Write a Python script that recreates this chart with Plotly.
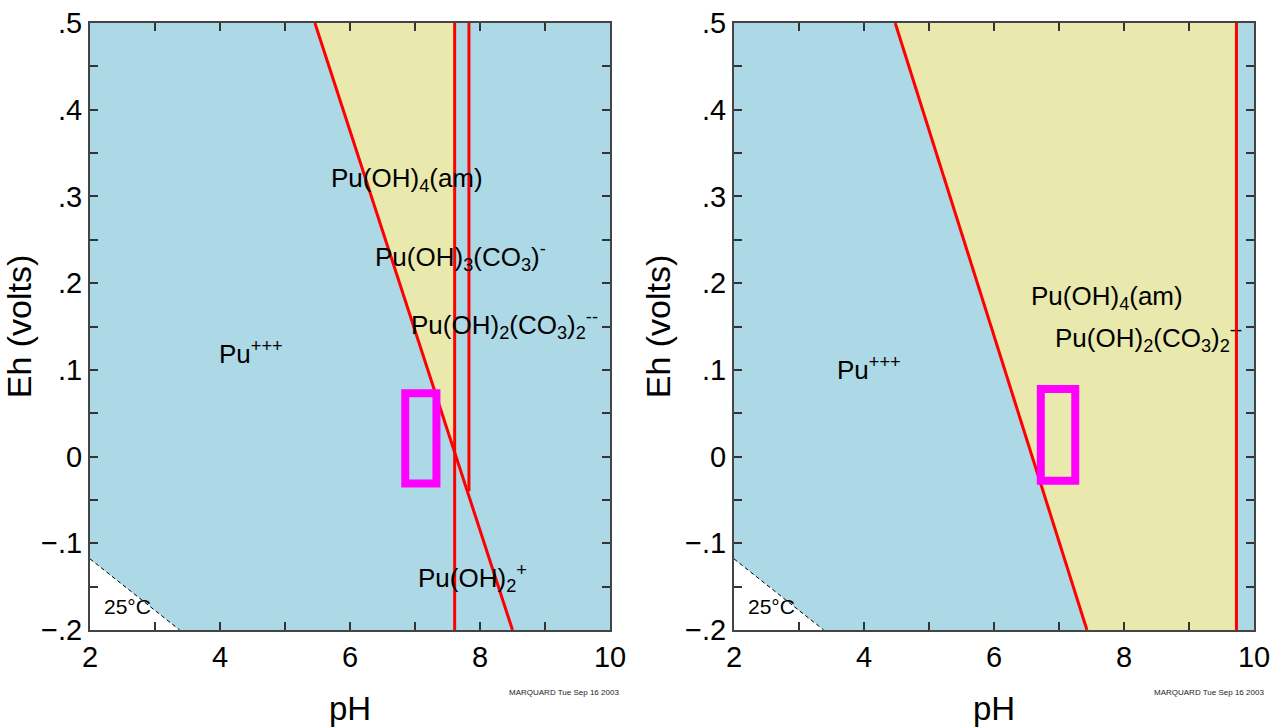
import plotly.graph_objects as go

# ---- data ----
# left panel
L_diag_ph = [5.46, 8.50]
L_diag_eh = [0.5, -0.2]
L_v1_ph = 7.61
L_v1_eh = [0.5, -0.2]
L_v2_ph = 7.83
L_v2_eh = [0.5, -0.04]
L_yellow_ph = [5.46, 7.61, 7.61]
L_yellow_eh = [0.5, 0.5, 0.005]
L_rect_ph = [6.85, 7.33]
L_rect_eh = [-0.031, 0.073]

# right panel
R_diag_ph = [4.48, 7.43]
R_diag_eh = [0.5, -0.2]
R_v_ph = 9.73
R_v_eh = [0.5, -0.2]
R_yellow_ph = [4.48, 9.73, 9.73, 7.43]
R_yellow_eh = [0.5, 0.5, -0.2, -0.2]
R_rect_ph = [6.72, 7.25]
R_rect_eh = [-0.028, 0.078]

# water stability limit (both panels)
W_ph = [2.0, 3.38]
W_eh = [-0.118, -0.2]

x_tickvals = [2, 3, 4, 5, 6, 7, 8, 9, 10]
x_ticktext = ["2", "", "4", "", "6", "", "8", "", "10"]
y_tickvals = [-0.2, -0.15, -0.1, -0.05, 0, 0.05, 0.1, 0.15, 0.2, 0.25, 0.3, 0.35, 0.4, 0.45, 0.5]
y_ticktext = ["\u2212.2", "", "\u2212.1", "", "0", "", ".1", "", ".2", "", ".3", "", ".4", "", ".5"]

L_labels = ["Pu(OH)<sub>4</sub>(am)", "Pu(OH)<sub>3</sub>(CO<sub>3</sub>)<sup>-</sup>",
            "Pu(OH)<sub>2</sub>(CO<sub>3</sub>)<sub>2</sub><sup>--</sup>", "Pu<sup>+++</sup>",
            "Pu(OH)<sub>2</sub><sup>+</sup>"]
R_labels = ["Pu(OH)<sub>4</sub>(am)", "Pu(OH)<sub>2</sub>(CO<sub>3</sub>)<sub>2</sub><sup>--</sup>",
            "Pu<sup>+++</sup>"]
temp_label = "25\u00b0C"
stamp = "MARQUARD Tue Sep 16 2003"

# ---- style ----
BLUE = "#ADD8E6"
YELLOW = "#E9E9AD"
RED = "#FF0000"
MAG = "#FF00FF"
FONT = "Liberation Sans, Arial, sans-serif"

fig = go.Figure()

def panel(xa, ya, yel_ph, yel_eh):
    # white region below water line
    fig.add_trace(go.Scatter(x=[W_ph[0], W_ph[1], W_ph[0]], y=[W_eh[0], W_eh[1], W_eh[1]],
                             fill="toself", fillcolor="white", line=dict(width=0),
                             mode="lines", xaxis=xa, yaxis=ya, hoverinfo="skip", showlegend=False))
    fig.add_trace(go.Scatter(x=W_ph, y=W_eh, mode="lines",
                             line=dict(color="black", width=1, dash="4px,3px"),
                             xaxis=xa, yaxis=ya, hoverinfo="skip", showlegend=False))
    fig.add_trace(go.Scatter(x=yel_ph, y=yel_eh, fill="toself", fillcolor=YELLOW,
                             line=dict(width=0), mode="lines", xaxis=xa, yaxis=ya,
                             hoverinfo="skip", showlegend=False))

def red(xa, ya, xs, ys):
    fig.add_trace(go.Scatter(x=xs, y=ys, mode="lines", line=dict(color=RED, width=3),
                             xaxis=xa, yaxis=ya, hoverinfo="skip", showlegend=False))

panel("x", "y", L_yellow_ph, L_yellow_eh)
red("x", "y", L_diag_ph, L_diag_eh)
red("x", "y", [L_v1_ph, L_v1_ph], L_v1_eh)
red("x", "y", [L_v2_ph, L_v2_ph], L_v2_eh)

panel("x2", "y2", R_yellow_ph, R_yellow_eh)
red("x2", "y2", R_diag_ph, R_diag_eh)
red("x2", "y2", [R_v_ph, R_v_ph], R_v_eh)

fig.add_shape(type="rect", xref="x", yref="y", x0=L_rect_ph[0], x1=L_rect_ph[1],
              y0=L_rect_eh[0], y1=L_rect_eh[1], line=dict(color=MAG, width=8))
fig.add_shape(type="rect", xref="x2", yref="y2", x0=R_rect_ph[0], x1=R_rect_ph[1],
              y0=R_rect_eh[0], y1=R_rect_eh[1], line=dict(color=MAG, width=8))

axis_common = dict(range=[2, 10], tickmode="array", tickvals=x_tickvals, ticktext=x_ticktext,
                   ticks="inside", ticklen=8, tickwidth=1.5, tickcolor="#333",
                   showline=True, linecolor="#444", linewidth=2, mirror="ticks",
                   showgrid=False, zeroline=False, automargin=False,
                   tickfont=dict(family=FONT, size=29, color="black"),
                   title=dict(text="pH", font=dict(family=FONT, size=33, color="black"), standoff=26))
yaxis_common = dict(range=[-0.2, 0.5], tickmode="array", tickvals=y_tickvals, ticktext=y_ticktext,
                    ticks="inside", ticklen=8, tickwidth=1.5, tickcolor="#333",
                    showline=True, linecolor="#444", linewidth=2, mirror="ticks",
                    showgrid=False, zeroline=False, automargin=False,
                    tickfont=dict(family=FONT, size=29, color="black"),
                    title=dict(text="Eh (volts)", font=dict(family=FONT, size=34, color="black"), standoff=4))

fig.update_layout(
    width=1280, height=727, margin=dict(l=0, r=0, t=0, b=0, autoexpand=False),
    paper_bgcolor="white", plot_bgcolor=BLUE, showlegend=False,
    xaxis=dict(domain=[90 / 1280, 610 / 1280], anchor="y", **axis_common),
    yaxis=dict(domain=[1 - 630 / 727, 1 - 23 / 727], anchor="x", **yaxis_common),
    xaxis2=dict(domain=[734 / 1280, 1254 / 1280], anchor="y2", **axis_common),
    yaxis2=dict(domain=[1 - 630 / 727, 1 - 23 / 727], anchor="x2", **yaxis_common),
)

# label placement (layout only)
L_pos = [(5.68, 0.319), (6.35, 0.230), (6.90, 0.152), (3.96, 0.120), (7.01, -0.140)]
R_pos = [(6.54, 0.184), (6.91, 0.137), (3.55, 0.102)]
LABEL_SIZE = 26

for txt, (px, py) in zip(L_labels, L_pos):
    fig.add_annotation(x=px, y=py, xref="x", yref="y", text=txt, showarrow=False,
                       xanchor="left", yanchor="middle", font=dict(family=FONT, size=LABEL_SIZE, color="black"))
for txt, (px, py) in zip(R_labels, R_pos):
    fig.add_annotation(x=px, y=py, xref="x2", yref="y2", text=txt, showarrow=False,
                       xanchor="left", yanchor="middle", font=dict(family=FONT, size=LABEL_SIZE, color="black"))
for xr, yr, px in (("x", "y", 2.19), ("x2", "y2", 2.18)):
    fig.add_annotation(x=px, y=-0.173, xref=xr, yref=yr, text=temp_label, showarrow=False,
                       xanchor="left", yanchor="middle", font=dict(family=FONT, size=21, color="black"))
for px in (507, 1152):
    fig.add_annotation(x=px / 1280, y=1 - 692 / 727, xref="paper", yref="paper", text=stamp,
                       showarrow=False, xanchor="left", yanchor="middle",
                       font=dict(family=FONT, size=8, color="#222"))

fig.write_html("out.html", config={"displayModeBar": False},
               post_script="document.body.style.margin='0px';document.body.style.overflow='hidden';")
